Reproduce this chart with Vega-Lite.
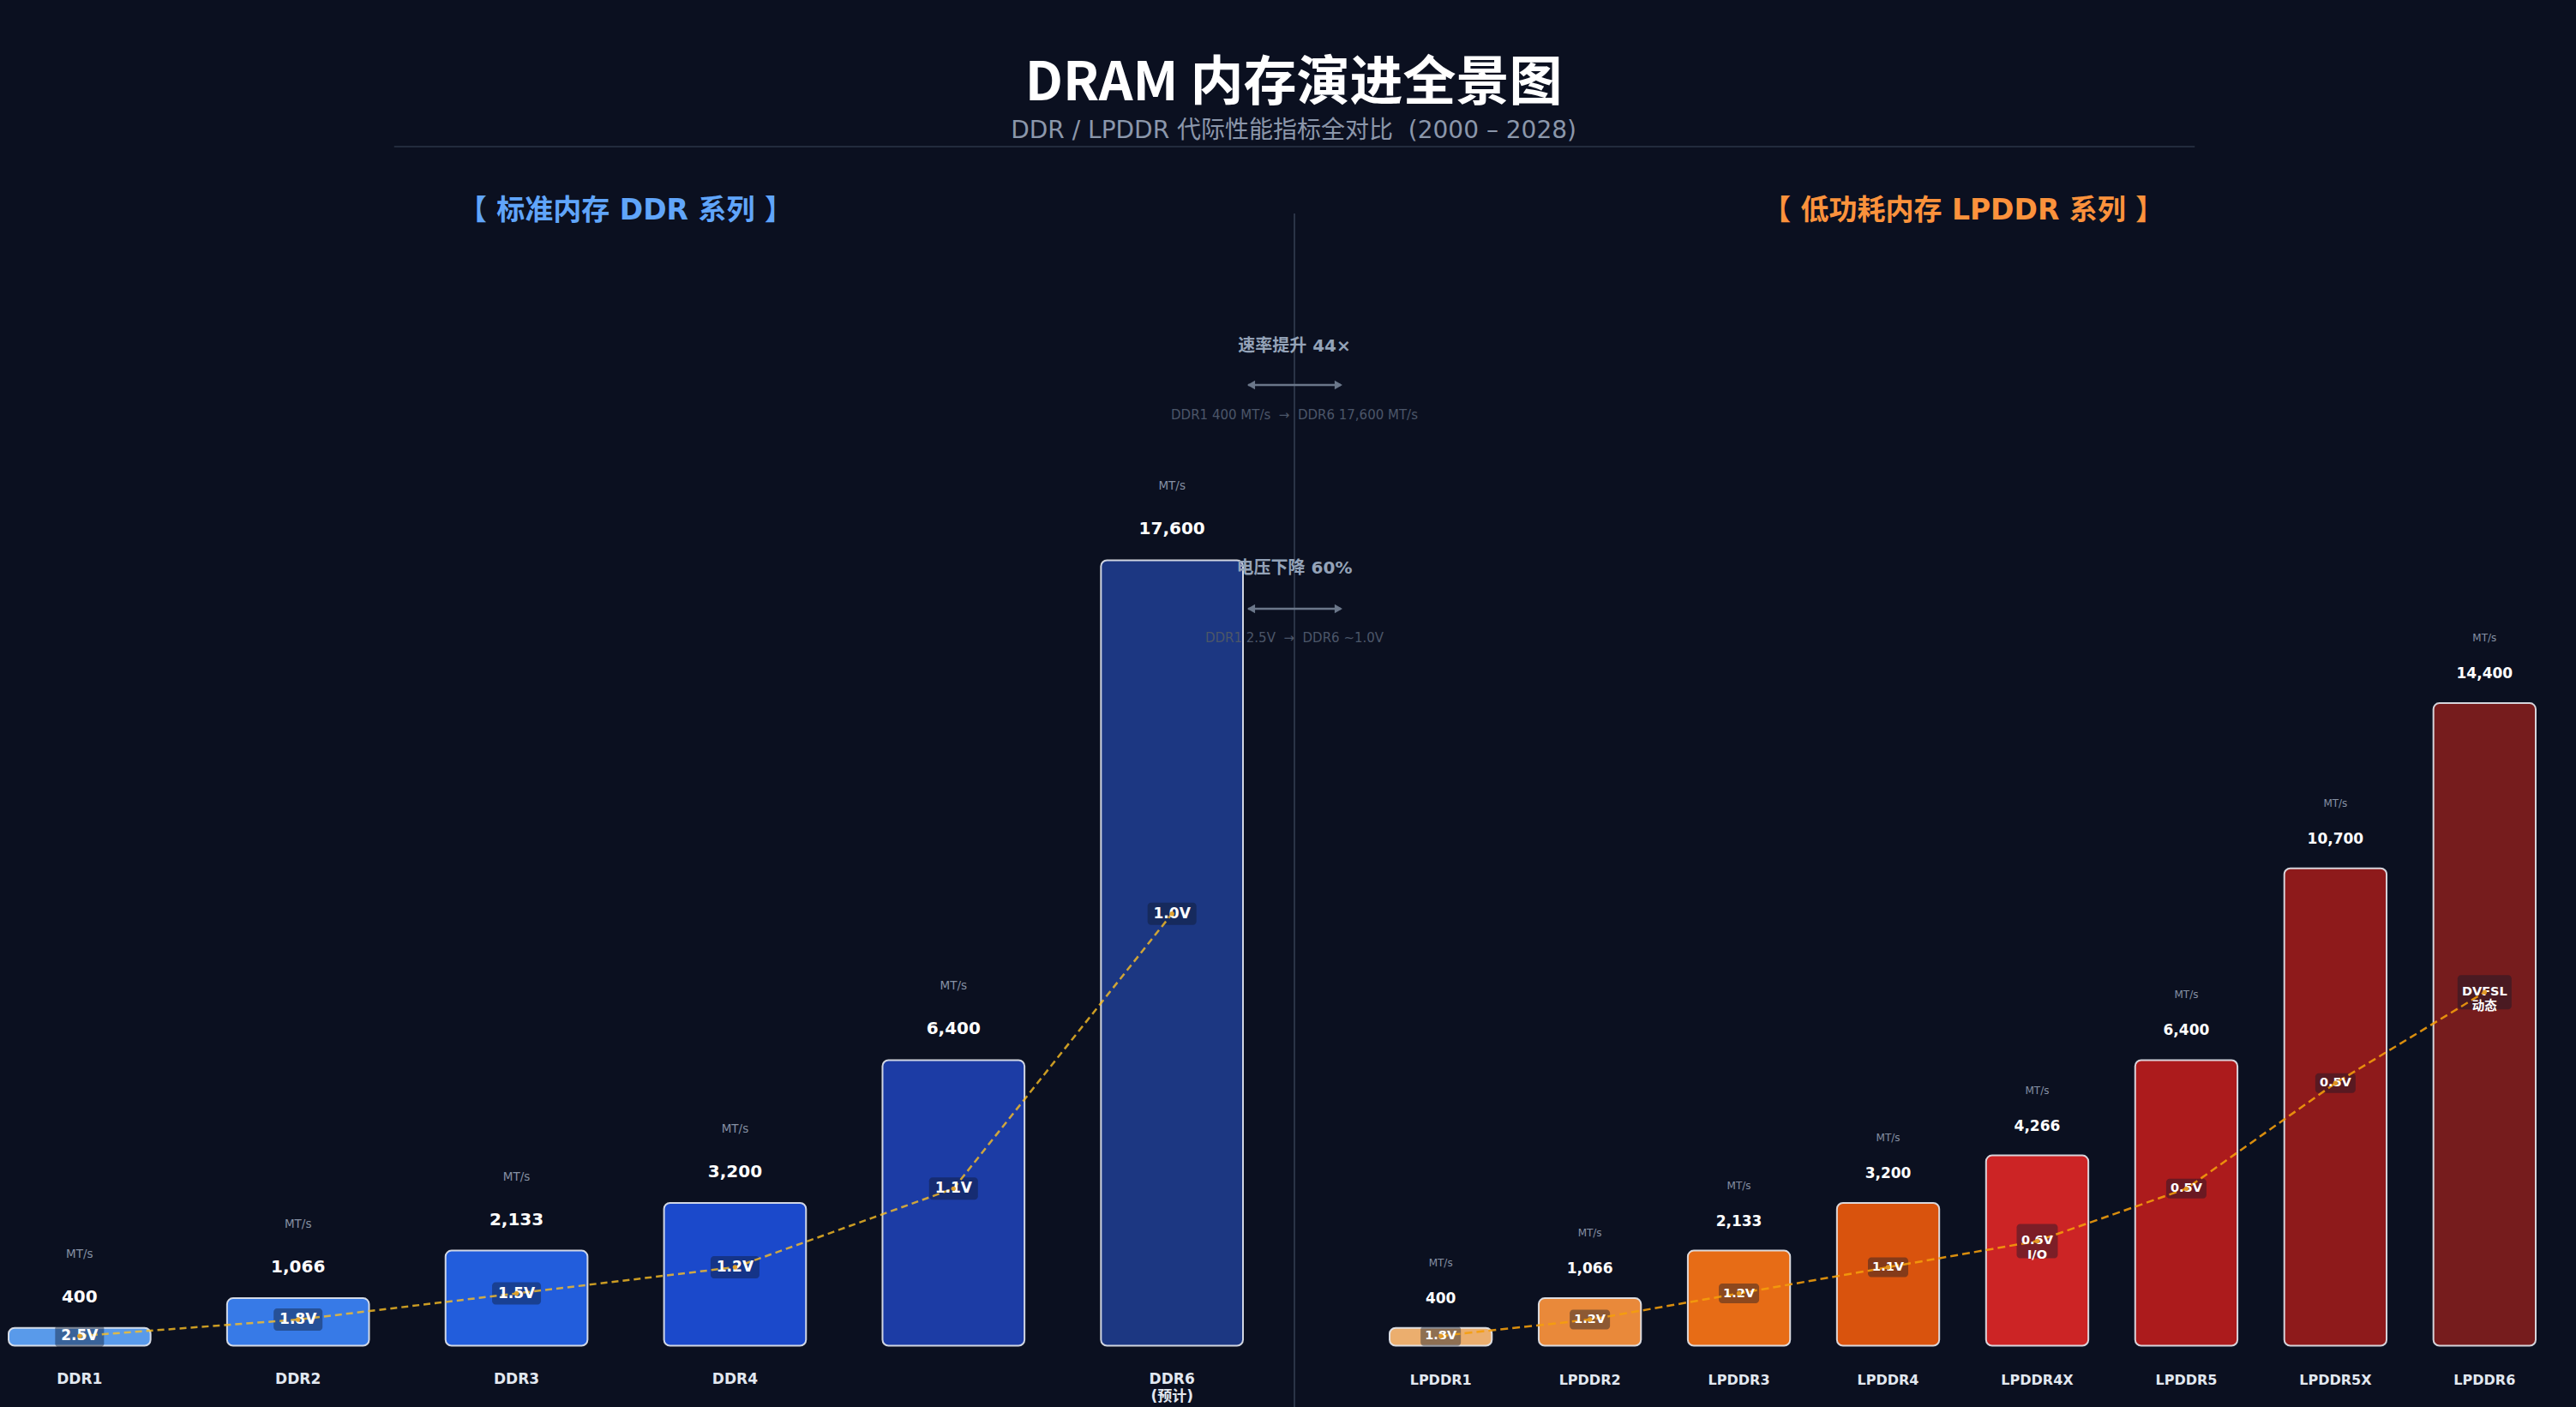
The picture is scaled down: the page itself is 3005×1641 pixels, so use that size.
{
  "$schema": "https://vega.github.io/schema/vega-lite/v6.json",
  "width": 3005,
  "height": 1641,
  "autosize": {"type": "none"},
  "padding": 0,
  "background": "#0b1020",
  "config": {"view": {"stroke": null}, "font": "DejaVu Sans"},
  "datasets": {
    "ddr": [
      {"gen": "DDR1", "label": "DDR1", "speed": 400, "volt": "2.5V"},
      {"gen": "DDR2", "label": "DDR2", "speed": 1066, "volt": "1.8V"},
      {"gen": "DDR3", "label": "DDR3", "speed": 2133, "volt": "1.5V"},
      {"gen": "DDR4", "label": "DDR4", "speed": 3200, "volt": "1.2V"},
      {"gen": "DDR5", "label": "", "speed": 6400, "volt": "1.1V"},
      {"gen": "DDR6", "label": "DDR6\n(预计)", "speed": 17600, "volt": "1.0V"}
    ],
    "lpddr": [
      {"gen": "LPDDR1", "speed": 400, "volt": "1.8V"},
      {"gen": "LPDDR2", "speed": 1066, "volt": "1.2V"},
      {"gen": "LPDDR3", "speed": 2133, "volt": "1.2V"},
      {"gen": "LPDDR4", "speed": 3200, "volt": "1.1V"},
      {"gen": "LPDDR4X", "speed": 4266, "volt": "0.6V\nI/O"},
      {"gen": "LPDDR5", "speed": 6400, "volt": "0.5V"},
      {"gen": "LPDDR5X", "speed": 10700, "volt": "0.5V"},
      {"gen": "LPDDR6", "speed": 14400, "volt": "DVFSL\n动态"}
    ]
  },
  "layer": [
    {
      "data": {"name": "ddr"},
      "layer": [
        {
          "encoding": {
            "x": {"field": "gen", "type": "nominal", "sort": null, "axis": null, "scale": {"domain": ["DDR1", "DDR2", "DDR3", "DDR4", "DDR5", "DDR6"], "range": [10, 1450], "paddingInner": 0.35, "paddingOuter": 0}},
            "y": {"field": "speed", "type": "quantitative", "axis": null, "scale": {"domain": [-1372, 30155], "nice": false, "zero": false}}
          },
          "layer": [
            {
              "mark": {"type": "bar", "cornerRadius": 7, "stroke": "#e5e9f0", "strokeWidth": 2, "strokeOpacity": 0.9, "fillOpacity": 0.93},
              "encoding": {
                "y2": {"datum": 0},
                "color": {"field": "gen", "type": "nominal", "legend": null, "scale": {"domain": ["DDR1", "DDR2", "DDR3", "DDR4", "DDR5", "DDR6"], "range": ["#60a5fa", "#3b82f6", "#2563eb", "#1d4ed8", "#1e40af", "#1e3a8a"]}}
              }
            },
            {
              "mark": {"type": "text", "font": "DejaVu Sans", "fontSize": 20, "fontWeight": "bold", "color": "#ffffff", "align": "center", "baseline": "middle", "dy": -36},
              "encoding": {"text": {"field": "speed", "type": "quantitative", "format": ","}}
            },
            {
              "mark": {"type": "text", "text": "MT/s", "font": "DejaVu Sans", "fontSize": 13.5, "color": "#8691a4", "align": "center", "baseline": "middle", "dy": -86}
            },
            {
              "mark": {"type": "text", "font": "DejaVu Sans, Noto Sans CJK SC", "fontSize": 17, "fontWeight": "bold", "color": "#e2e8f0", "align": "center", "baseline": "top", "dy": 31, "lineBreak": "\n", "lineHeight": 20.5},
              "encoding": {
                "y": {"datum": 0, "type": "quantitative"},
                "text": {"field": "label", "type": "nominal"}
              }
            }
          ]
        },
        {
          "encoding": {
            "x": {"field": "gen", "type": "nominal", "sort": null, "axis": null},
            "y": {"field": "speed", "type": "quantitative", "axis": null, "scale": {"domain": [-2494.5, 54827.3], "nice": false, "zero": false}}
          },
          "layer": [
            {
              "mark": {"type": "point", "shape": "M-24.5,-13H24.5A4,4 0 0 1 28.5,-9V9A4,4 0 0 1 24.5,13H-24.5A4,4 0 0 1 -28.5,9V-9A4,4 0 0 1 -24.5,-13Z", "size": 4, "filled": true, "color": "#0f172a", "opacity": 0.42, "strokeWidth": 0}
            },
            {
              "mark": {"type": "line", "color": "#fbbf24", "opacity": 0.8, "strokeWidth": 2.5, "strokeDash": [8, 5], "interpolate": "linear"}
            },
            {
              "mark": {"type": "text", "font": "DejaVu Sans", "fontSize": 17, "fontWeight": "bold", "color": "#ffffff", "align": "center", "baseline": "middle"},
              "encoding": {"text": {"field": "volt", "type": "nominal"}}
            },
            {
              "mark": {"type": "point", "filled": true, "size": 30, "color": "#e0a02a", "opacity": 0.95}
            }
          ]
        }
      ],
      "resolve": {"scale": {"y": "independent"}}
    },
    {
      "data": {"name": "lpddr"},
      "layer": [
        {
          "encoding": {
            "x": {"field": "gen", "type": "nominal", "sort": null, "axis": null, "scale": {"domain": ["LPDDR1", "LPDDR2", "LPDDR3", "LPDDR4", "LPDDR4X", "LPDDR5", "LPDDR5X", "LPDDR6"], "range": [1621, 2958], "paddingInner": 0.314, "paddingOuter": 0}},
            "y": {"field": "speed", "type": "quantitative", "axis": null, "scale": {"domain": [-1372, 30155], "nice": false, "zero": false}}
          },
          "layer": [
            {
              "mark": {"type": "bar", "cornerRadius": 7, "stroke": "#e5e9f0", "strokeWidth": 2, "strokeOpacity": 0.9, "fillOpacity": 0.93},
              "encoding": {
                "y2": {"datum": 0},
                "color": {"field": "gen", "type": "nominal", "legend": null, "scale": {"domain": ["LPDDR1", "LPDDR2", "LPDDR3", "LPDDR4", "LPDDR4X", "LPDDR5", "LPDDR5X", "LPDDR6"], "range": ["#fdba74", "#fb923c", "#f97316", "#ea580c", "#dc2626", "#b91c1c", "#991b1b", "#7f1d1d"]}}
              }
            },
            {
              "mark": {"type": "text", "font": "DejaVu Sans", "fontSize": 17, "fontWeight": "bold", "color": "#ffffff", "align": "center", "baseline": "middle", "dy": -34},
              "encoding": {"text": {"field": "speed", "type": "quantitative", "format": ","}}
            },
            {
              "mark": {"type": "text", "text": "MT/s", "font": "DejaVu Sans", "fontSize": 12, "color": "#8691a4", "align": "center", "baseline": "middle", "dy": -76}
            },
            {
              "mark": {"type": "text", "font": "DejaVu Sans", "fontSize": 16, "fontWeight": "bold", "color": "#e2e8f0", "align": "center", "baseline": "top", "dy": 32},
              "encoding": {
                "y": {"datum": 0, "type": "quantitative"},
                "text": {"field": "gen", "type": "nominal"}
              }
            }
          ]
        },
        {
          "encoding": {
            "x": {"field": "gen", "type": "nominal", "sort": null, "axis": null},
            "y": {"field": "speed", "type": "quantitative", "axis": null, "scale": {"domain": [-2494.5, 54827.3], "nice": false, "zero": false}}
          },
          "layer": [
            {
              "transform": [{"filter": "indexof(datum.volt, '\\n') < 0"}],
              "mark": {"type": "point", "shape": "M-19.5,-11.5H19.5A4,4 0 0 1 23.5,-7.5V7.5A4,4 0 0 1 19.5,11.5H-19.5A4,4 0 0 1 -23.5,7.5V-7.5A4,4 0 0 1 -19.5,-11.5Z", "size": 4, "filled": true, "color": "#0f172a", "opacity": 0.42, "strokeWidth": 0}
            },
            {
              "transform": [{"filter": "datum.gen == 'LPDDR4X'"}],
              "mark": {"type": "point", "shape": "M-20,-20H20A4,4 0 0 1 24,-16V16A4,4 0 0 1 20,20H-20A4,4 0 0 1 -24,16V-16A4,4 0 0 1 -20,-20Z", "size": 4, "filled": true, "color": "#0f172a", "opacity": 0.42, "strokeWidth": 0}
            },
            {
              "transform": [{"filter": "datum.gen == 'LPDDR6'"}],
              "mark": {"type": "point", "shape": "M-27.5,-20H27.5A4,4 0 0 1 31.5,-16V16A4,4 0 0 1 27.5,20H-27.5A4,4 0 0 1 -31.5,16V-16A4,4 0 0 1 -27.5,-20Z", "size": 4, "filled": true, "color": "#0f172a", "opacity": 0.42, "strokeWidth": 0}
            },
            {
              "mark": {"type": "line", "color": "#f59e0b", "opacity": 0.88, "strokeWidth": 2.5, "strokeDash": [9, 5], "interpolate": "linear"}
            },
            {
              "mark": {"type": "text", "font": "DejaVu Sans, Noto Sans CJK SC", "fontSize": 14.5, "fontWeight": "bold", "color": "#ffffff", "align": "center", "baseline": "middle", "lineBreak": "\n", "lineHeight": 17},
              "encoding": {"text": {"field": "volt", "type": "nominal"}}
            },
            {
              "mark": {"type": "point", "filled": true, "size": 30, "color": "#e0961f", "opacity": 0.95}
            }
          ]
        }
      ],
      "resolve": {"scale": {"y": "independent"}}
    },
    {
      "data": {"values": [{}]},
      "layer": [
        {
          "mark": {"type": "rule", "color": "#2b3447", "strokeWidth": 2},
          "encoding": {
            "x": {"datum": 0.5025, "type": "quantitative", "scale": {"domain": [0, 1], "nice": false, "zero": false}, "axis": null},
            "y": {"datum": 0.1517, "type": "quantitative", "scale": {"domain": [0, 1], "nice": false, "zero": false, "reverse": true}, "axis": null},
            "y2": {"datum": 1}
          }
        },
        {
          "mark": {"type": "rule", "color": "#222b3d", "strokeWidth": 2},
          "encoding": {
            "x": {"datum": 0.153, "type": "quantitative", "scale": {"domain": [0, 1], "nice": false, "zero": false}, "axis": null},
            "x2": {"datum": 0.852},
            "y": {"datum": 0.1042, "type": "quantitative", "scale": {"domain": [0, 1], "nice": false, "zero": false, "reverse": true}, "axis": null}
          }
        },
        {
          "mark": {"type": "text", "text": "DRAM 内存演进全景图", "font": "Noto Sans CJK SC", "fontSize": 62, "fontWeight": "bold", "color": "#ffffff", "align": "center", "baseline": "middle"},
          "encoding": {
            "x": {"datum": 0.5022, "type": "quantitative", "scale": {"domain": [0, 1], "nice": false, "zero": false}, "axis": null},
            "y": {"datum": 0.0595, "type": "quantitative", "scale": {"domain": [0, 1], "nice": false, "zero": false, "reverse": true}, "axis": null}
          }
        },
        {
          "mark": {"type": "text", "text": "DDR / LPDDR 代际性能指标全对比\u00a0 (2000 – 2028)", "font": "DejaVu Sans, Noto Sans CJK SC", "fontSize": 28, "color": "#8b97ab", "align": "center", "baseline": "middle"},
          "encoding": {
            "x": {"datum": 0.5022, "type": "quantitative", "scale": {"domain": [0, 1], "nice": false, "zero": false}, "axis": null},
            "y": {"datum": 0.0935, "type": "quantitative", "scale": {"domain": [0, 1], "nice": false, "zero": false, "reverse": true}, "axis": null}
          }
        },
        {
          "mark": {"type": "text", "text": "【 标准内存 DDR 系列 】", "font": "DejaVu Sans, Noto Sans CJK SC", "fontSize": 33, "fontWeight": "bold", "color": "#60a5fa", "align": "center", "baseline": "middle"},
          "encoding": {
            "x": {"datum": 0.2429, "type": "quantitative", "scale": {"domain": [0, 1], "nice": false, "zero": false}, "axis": null},
            "y": {"datum": 0.1497, "type": "quantitative", "scale": {"domain": [0, 1], "nice": false, "zero": false, "reverse": true}, "axis": null}
          }
        },
        {
          "mark": {"type": "text", "text": "【 低功耗内存 LPDDR 系列 】", "font": "DejaVu Sans, Noto Sans CJK SC", "fontSize": 33, "fontWeight": "bold", "color": "#fb923c", "align": "center", "baseline": "middle"},
          "encoding": {
            "x": {"datum": 0.7621, "type": "quantitative", "scale": {"domain": [0, 1], "nice": false, "zero": false}, "axis": null},
            "y": {"datum": 0.1497, "type": "quantitative", "scale": {"domain": [0, 1], "nice": false, "zero": false, "reverse": true}, "axis": null}
          }
        },
        {
          "mark": {"type": "text", "text": "速率提升 44×", "font": "DejaVu Sans, Noto Sans CJK SC", "fontSize": 20, "fontWeight": "bold", "color": "#94a3b8", "align": "center", "baseline": "middle"},
          "encoding": {
            "x": {"datum": 0.5025, "type": "quantitative", "scale": {"domain": [0, 1], "nice": false, "zero": false}, "axis": null},
            "y": {"datum": 0.2459, "type": "quantitative", "scale": {"domain": [0, 1], "nice": false, "zero": false, "reverse": true}, "axis": null}
          }
        },
        {
          "mark": {"type": "rule", "color": "#6b778a", "strokeWidth": 2.5},
          "encoding": {
            "x": {"datum": 0.4845, "type": "quantitative", "scale": {"domain": [0, 1], "nice": false, "zero": false}, "axis": null},
            "x2": {"datum": 0.5205},
            "y": {"datum": 0.2736, "type": "quantitative", "scale": {"domain": [0, 1], "nice": false, "zero": false, "reverse": true}, "axis": null}
          }
        },
        {
          "mark": {"type": "point", "shape": "triangle-left", "filled": true, "size": 110, "color": "#6b778a", "opacity": 1},
          "encoding": {
            "x": {"datum": 0.4857, "type": "quantitative", "scale": {"domain": [0, 1], "nice": false, "zero": false}, "axis": null},
            "y": {"datum": 0.2736, "type": "quantitative", "scale": {"domain": [0, 1], "nice": false, "zero": false, "reverse": true}, "axis": null}
          }
        },
        {
          "mark": {"type": "point", "shape": "triangle-right", "filled": true, "size": 110, "color": "#6b778a", "opacity": 1},
          "encoding": {
            "x": {"datum": 0.5196, "type": "quantitative", "scale": {"domain": [0, 1], "nice": false, "zero": false}, "axis": null},
            "y": {"datum": 0.2736, "type": "quantitative", "scale": {"domain": [0, 1], "nice": false, "zero": false, "reverse": true}, "axis": null}
          }
        },
        {
          "mark": {"type": "text", "text": "DDR1 400 MT/s\u00a0 →\u00a0 DDR6 17,600 MT/s", "font": "DejaVu Sans", "fontSize": 15, "color": "#4b5669", "align": "center", "baseline": "middle"},
          "encoding": {
            "x": {"datum": 0.5025, "type": "quantitative", "scale": {"domain": [0, 1], "nice": false, "zero": false}, "axis": null},
            "y": {"datum": 0.2949, "type": "quantitative", "scale": {"domain": [0, 1], "nice": false, "zero": false, "reverse": true}, "axis": null}
          }
        },
        {
          "mark": {"type": "text", "text": "电压下降 60%", "font": "DejaVu Sans, Noto Sans CJK SC", "fontSize": 20, "fontWeight": "bold", "color": "#94a3b8", "align": "center", "baseline": "middle"},
          "encoding": {
            "x": {"datum": 0.5025, "type": "quantitative", "scale": {"domain": [0, 1], "nice": false, "zero": false}, "axis": null},
            "y": {"datum": 0.4043, "type": "quantitative", "scale": {"domain": [0, 1], "nice": false, "zero": false, "reverse": true}, "axis": null}
          }
        },
        {
          "mark": {"type": "rule", "color": "#6b778a", "strokeWidth": 2.5},
          "encoding": {
            "x": {"datum": 0.4845, "type": "quantitative", "scale": {"domain": [0, 1], "nice": false, "zero": false}, "axis": null},
            "x2": {"datum": 0.5205},
            "y": {"datum": 0.4327, "type": "quantitative", "scale": {"domain": [0, 1], "nice": false, "zero": false, "reverse": true}, "axis": null}
          }
        },
        {
          "mark": {"type": "point", "shape": "triangle-left", "filled": true, "size": 110, "color": "#6b778a", "opacity": 1},
          "encoding": {
            "x": {"datum": 0.4857, "type": "quantitative", "scale": {"domain": [0, 1], "nice": false, "zero": false}, "axis": null},
            "y": {"datum": 0.4327, "type": "quantitative", "scale": {"domain": [0, 1], "nice": false, "zero": false, "reverse": true}, "axis": null}
          }
        },
        {
          "mark": {"type": "point", "shape": "triangle-right", "filled": true, "size": 110, "color": "#6b778a", "opacity": 1},
          "encoding": {
            "x": {"datum": 0.5196, "type": "quantitative", "scale": {"domain": [0, 1], "nice": false, "zero": false}, "axis": null},
            "y": {"datum": 0.4327, "type": "quantitative", "scale": {"domain": [0, 1], "nice": false, "zero": false, "reverse": true}, "axis": null}
          }
        },
        {
          "mark": {"type": "text", "text": "DDR1 2.5V\u00a0 →\u00a0 DDR6 ~1.0V", "font": "DejaVu Sans", "fontSize": 15, "color": "#4b5669", "align": "center", "baseline": "middle"},
          "encoding": {
            "x": {"datum": 0.5025, "type": "quantitative", "scale": {"domain": [0, 1], "nice": false, "zero": false}, "axis": null},
            "y": {"datum": 0.4534, "type": "quantitative", "scale": {"domain": [0, 1], "nice": false, "zero": false, "reverse": true}, "axis": null}
          }
        }
      ]
    }
  ],
  "resolve": {"scale": {"x": "independent", "y": "independent", "color": "independent"}}
}
